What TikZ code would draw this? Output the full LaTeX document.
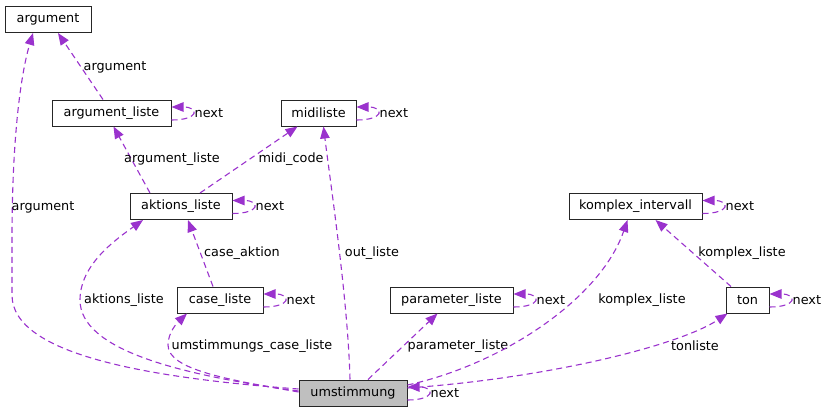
\documentclass[tikz,border=0pt]{standalone}
\usepackage{fontspec}
\setmainfont{DejaVu Sans}
\usetikzlibrary{arrows.meta}
\definecolor{edgepurple}{RGB}{154,50,205}
\definecolor{fillgray}{RGB}{191,191,191}

\begin{document}
\begin{tikzpicture}[x=1pt, y=-1pt, font=\fontsize{12.8}{14}\selectfont,
  box/.style={draw=black!85, line width=1pt, fill=white, minimum height=26pt, inner sep=0pt},
  ref/.style={edgepurple, line width=1.1pt, dash pattern=on 6pt off 4pt, -{Triangle[length=12pt,width=9.5pt]}},
  lbl/.style={inner sep=0pt}]
\useasboundingbox (0,0) rectangle (828,413);
% structs
\node[box, minimum width=86pt] (arg) at (48,19.5) {argument};
\node[box, minimum width=119pt] (al) at (111.5,113) {argument\_liste};
\node[box, minimum width=75pt] (mi) at (318.5,113) {midiliste};
\node[box, minimum width=102pt] (ak) at (181,206.5) {aktions\_liste};
\node[box, minimum width=133pt] (ki) at (635.5,206.5) {komplex\_intervall};
\node[box, minimum width=86pt] (cl) at (220,300) {case\_liste};
\node[box, minimum width=123pt] (pl) at (451.5,300) {parameter\_liste};
\node[box, minimum width=43pt] (ton) at (747.5,300) {ton};
\node[box, minimum width=108pt, fill=fillgray] (um) at (353,393) {umstimmung};
% next pointers
\foreach \n in {al,mi,ak,ki,cl,pl,ton,um} {
  \draw[ref] ([yshift=-7pt]\n.east) .. controls +(28,0) and +(28,0) .. ([yshift=6pt]\n.east);
  \node[lbl, anchor=west] (\n-next) at ([xshift=23pt]\n.east) {next};
}
% members
\draw[ref] ([xshift=-8.5pt]al.north) -- ([xshift=10pt]arg.south);
\node[lbl] (l-arg) at (115,67) {argument};
\draw[ref] ([xshift=-31pt]ak.north) -- ([xshift=2pt]al.south);
\node[lbl] (l-al) at (172,159) {argument\_liste};
\draw[ref] ([xshift=19pt]ak.north) -- ([xshift=-21pt]mi.south);
\node[lbl] (l-midi) at (291,159) {midi\_code};
\draw[ref] ([xshift=-7pt]cl.north) -- ([xshift=7pt]ak.south);
\node[lbl] (l-case) at (242,253) {case\_aktion};
\draw[ref] ([xshift=-16.5pt]ton.north) -- ([xshift=20pt]ki.south);
\node[lbl] (l-kl) at (742,253) {komplex\_liste};
% umstimmung
\draw[ref] ([yshift=4pt]um.west) .. controls (150,378) and (12,355) .. (12,295)
  -- (12,240) .. controls (12,130) and (22,70) .. ([xshift=-15pt]arg.south);
\node[lbl] (l-uarg) at (43,207) {argument};
\draw[ref] ([yshift=2pt]um.west) .. controls (180,375) and (80,350) .. (80,300)
  .. controls (80,265) and (115,240) .. ([xshift=-38pt]ak.south);
\node[lbl] (l-uak) at (124,300) {aktions\_liste};
\draw[ref] ([yshift=1pt]um.west) .. controls (230,380) and (168,370) .. (168,345)
  .. controls (168,332) and (178,322) .. ([xshift=-33pt]cl.south);
\node[lbl] (l-ucl) at (252,346) {umstimmungs\_case\_liste};
\draw[ref] ([xshift=-3pt]um.north) .. controls (348,300) and (330,180) .. ([xshift=5pt]mi.south);
\node[lbl] (l-out) at (372,253) {out\_liste};
\draw[ref] ([xshift=15pt]um.north) -- ([xshift=-14pt]pl.south);
\node[lbl] (l-pl) at (458,346) {parameter\_liste};
\draw[ref] ([yshift=8pt]um.east) .. controls (500,365) and (600,300) .. ([xshift=-8pt]ki.south);
\node[lbl] (l-uki) at (642,300) {komplex\_liste};
\draw[ref] ([yshift=5pt]um.east) .. controls (550,378) and (680,345) .. ([xshift=2pt]ton.south west);
\node[lbl] (l-ton) at (695,346) {tonliste};
\end{tikzpicture}
\end{document}
